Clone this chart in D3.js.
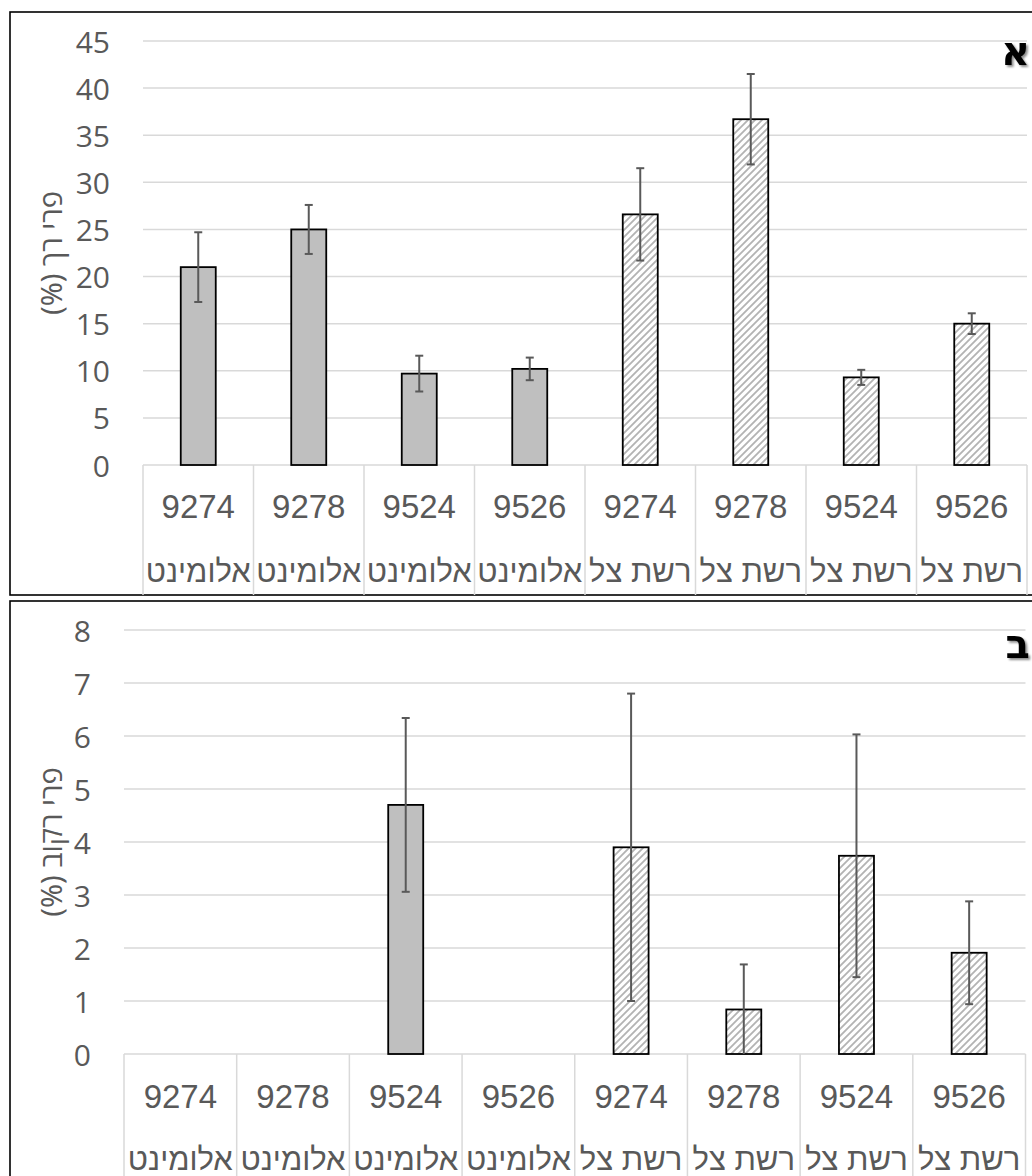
<!DOCTYPE html>
<html>
<head>
<meta charset="utf-8">
<script src="https://cdn.jsdelivr.net/npm/d3@7/dist/d3.min.js"></script>
<style>
  html, body { margin: 0; padding: 0; background: #fff; }
  svg { display: block; }
</style>
</head>
<body>
<script>
// ---------- DATA ----------
const cultivars = ["9274", "9278", "9524", "9526", "9274", "9278", "9524", "9526"];
const treatments = ["אלומינט", "אלומינט", "אלומינט", "אלומינט", "רשת צל", "רשת צל", "רשת צל", "רשת צל"];
const hatched = [false, false, false, false, true, true, true, true];

const softValues = [21.0, 25.0, 9.7, 10.2, 26.6, 36.7, 9.3, 15.0];
const softErrors = [3.7, 2.6, 1.9, 1.2, 4.9, 4.8, 0.8, 1.1];
const softTicks = [0, 5, 10, 15, 20, 25, 30, 35, 40, 45];

const rotValues = [0, 0, 4.7, 0, 3.9, 0.84, 3.74, 1.91];
const rotErrors = [0, 0, 1.64, 0, 2.9, 0.85, 2.29, 0.97];
const rotTicks = [0, 1, 2, 3, 4, 5, 6, 7, 8];

const panelTitles = ["פרי רך (%)", "פרי רקוב (%)"];
const panelLetters = ["א", "ב"];

// ---------- DRAW ----------
const W = 1032, H = 1176;
const svg = d3.select("body").append("svg").attr("width", W).attr("height", H);
const defs = svg.append("defs");

const pat = defs.append("pattern").attr("id", "hatch")
  .attr("patternUnits", "userSpaceOnUse").attr("width", 7).attr("height", 7);
pat.append("rect").attr("width", 7).attr("height", 7).attr("fill", "#fff");
pat.append("path").attr("d", "M-1,1 L1,-1 M0,7 L7,0 M6,8 L8,6")
  .attr("stroke", "#b3b3b3").attr("stroke-width", 1.8);

const sh = defs.append("filter").attr("id", "shadow").attr("x", "-30%").attr("y", "-30%")
  .attr("width", "160%").attr("height", "160%");
sh.append("feDropShadow").attr("dx", 2).attr("dy", 2).attr("stdDeviation", 1.2)
  .attr("flood-color", "#000").attr("flood-opacity", 0.45);

function drawPanel(o) {
  const g = svg.append("g");
  // frame
  g.append("rect").attr("x", o.frame[0]).attr("y", o.frame[1])
    .attr("width", o.frame[2]).attr("height", o.frame[3])
    .attr("fill", "#fff").attr("stroke", "#000").attr("stroke-width", 1.6);

  const y = d3.scaleLinear().domain(o.domain).range([o.y0, o.y1]);
  const x = d3.scaleBand().domain(d3.range(cultivars.length)).range([o.x0, o.x1]).paddingInner(0).paddingOuter(0);

  // gridlines
  g.append("g").selectAll("line").data(o.ticks.filter(t => t > 0)).join("line")
    .attr("x1", o.x0).attr("x2", o.x1)
    .attr("y1", d => y(d)).attr("y2", d => y(d))
    .attr("stroke", "#d9d9d9").attr("stroke-width", 1.5);

  // y tick labels
  g.append("g").selectAll("text").data(o.ticks).join("text")
    .attr("x", o.tickX).attr("y", d => y(d))
    .attr("text-anchor", "end").attr("dominant-baseline", "central")
    .attr("font-family", "'Open Sans', 'Noto Sans', sans-serif")
    .attr("font-size", 30).attr("fill", "#595959")
    .text(d => d);

  // axis title
  g.append("text")
    .attr("transform", `translate(${o.titleX},${(o.y0 + o.y1) / 2}) rotate(-90)`)
    .attr("text-anchor", "middle").attr("dominant-baseline", "central")
    .attr("direction", "rtl").attr("unicode-bidi", "embed")
    .attr("font-family", "'Noto Sans', 'Open Sans', 'DejaVu Sans', sans-serif")
    .attr("font-size", 29).attr("fill", "#595959")
    .text(o.title);

  // category table lines
  g.append("line").attr("x1", o.x0).attr("x2", o.x1).attr("y1", o.y0).attr("y2", o.y0)
    .attr("stroke", "#d9d9d9").attr("stroke-width", 1.5);
  const bounds = d3.range(cultivars.length + 1).map(i => o.x0 + i * x.bandwidth());
  g.append("g").selectAll("line").data(bounds).join("line")
    .attr("x1", d => d).attr("x2", d => d).attr("y1", o.y0).attr("y2", o.tableBottom)
    .attr("stroke", "#d9d9d9").attr("stroke-width", 1.5);

  // category labels
  g.append("g").selectAll("text").data(cultivars).join("text")
    .attr("x", (d, i) => x(i) + x.bandwidth() / 2).attr("y", o.numBase)
    .attr("text-anchor", "middle")
    .attr("font-family", "'Liberation Sans', Arial, sans-serif")
    .attr("font-size", 33).attr("fill", "#595959")
    .text(d => d);
  g.append("g").selectAll("text").data(treatments).join("text")
    .attr("x", (d, i) => x(i) + x.bandwidth() / 2).attr("y", o.hebBase)
    .attr("text-anchor", "middle").attr("direction", "rtl")
    .attr("font-family", "'Liberation Sans', Arial, sans-serif")
    .attr("font-size", o.hebSize).attr("fill", "#595959")
    .text(d => d);

  // bars
  const bw = 35;
  const idx = d3.range(o.values.length).filter(i => o.values[i] > 0);
  g.append("g").selectAll("rect").data(idx).join("rect")
    .attr("x", i => x(i) + x.bandwidth() / 2 - bw / 2)
    .attr("width", bw)
    .attr("y", i => y(o.values[i]))
    .attr("height", i => y(0) - y(o.values[i]))
    .attr("fill", i => hatched[i] ? "url(#hatch)" : "#bfbfbf")
    .attr("stroke", "#000").attr("stroke-width", 1.8);

  // error bars
  const eg = g.append("g").attr("stroke", "#595959").attr("stroke-width", 2);
  idx.forEach(i => {
    const cx = x(i) + x.bandwidth() / 2;
    const hi = o.values[i] + o.errors[i];
    const lo = Math.max(0, o.values[i] - o.errors[i]);
    eg.append("line").attr("x1", cx).attr("x2", cx).attr("y1", y(hi)).attr("y2", y(lo));
    eg.append("line").attr("x1", cx - 4).attr("x2", cx + 4).attr("y1", y(hi)).attr("y2", y(hi));
    if (o.values[i] - o.errors[i] > 0) {
      eg.append("line").attr("x1", cx - 4).attr("x2", cx + 4).attr("y1", y(lo)).attr("y2", y(lo));
    }
  });

  // panel letter
  g.append("text").attr("x", 1030).attr("y", o.letterBase)
    .attr("text-anchor", "end")
    .attr("font-family", "'DejaVu Sans', 'Liberation Sans', sans-serif")
    .attr("font-weight", "bold").attr("font-size", 40).attr("fill", "#000")
    .attr("filter", "url(#shadow)")
    .text(o.letter);
}

drawPanel({
  frame: [10, 12, 1040, 583],
  domain: [0, 45], ticks: softTicks,
  y0: 465, y1: 41, x0: 143, x1: 1027,
  tickX: 110, titleX: 50, title: panelTitles[0],
  tableBottom: 595, numBase: 518, hebBase: 582, hebSize: 31,
  values: softValues, errors: softErrors,
  letter: panelLetters[0], letterBase: 65
});

drawPanel({
  frame: [10, 601, 1040, 600],
  domain: [0, 8], ticks: rotTicks,
  y0: 1054, y1: 630, x0: 124, x1: 1025.5,
  tickX: 91, titleX: 50, title: panelTitles[1],
  tableBottom: 1176, numBase: 1108, hebBase: 1170, hebSize: 31,
  values: rotValues, errors: rotErrors,
  letter: panelLetters[1], letterBase: 658
});
</script>
</body>
</html>
